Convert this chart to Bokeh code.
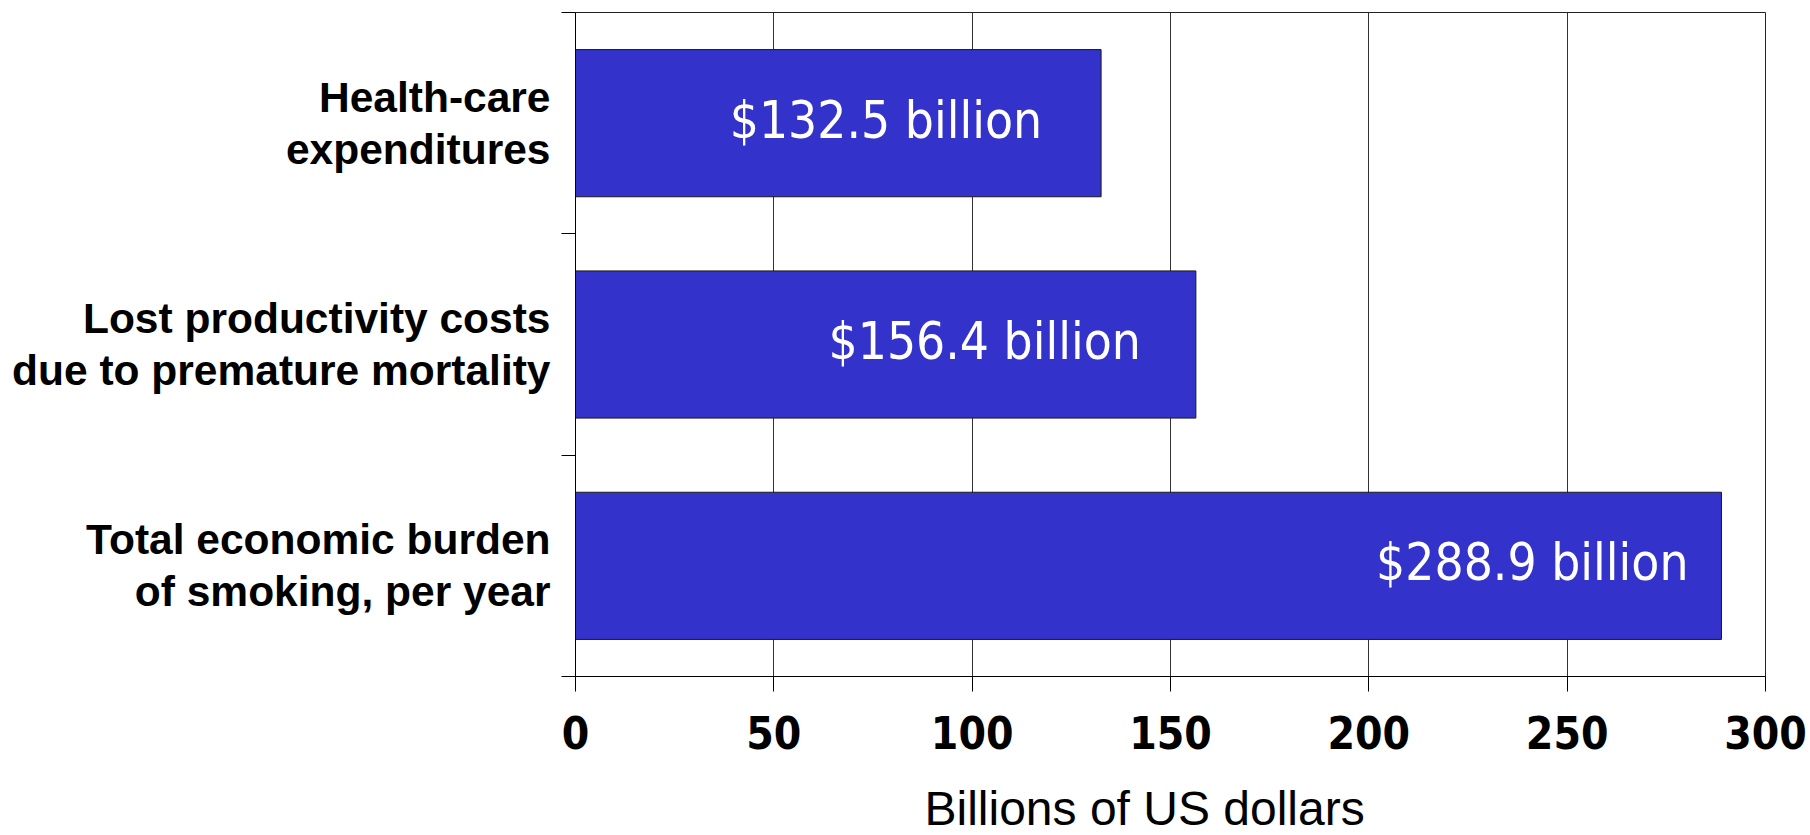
from bokeh.plotting import figure
from bokeh.models import FixedTicker, ColumnDataSource, Range1d, Title
from bokeh.core.properties import value
from bokeh.embed import file_html
from bokeh.resources import INLINE

# ---- data ----
categories = [
    "Health-care\nexpenditures",
    "Lost productivity costs\ndue to premature mortality",
    "Total economic burden\nof smoking, per year",
]
values = [132.5, 156.4, 288.9]
bar_labels = ["$132.5 billion", "$156.4 billion", "$288.9 billion"]
x_ticks = [0, 50, 100, 150, 200, 250, 300]
x_title = "Billions of US dollars"

# ---- styles ----
label_offsets = [-59, -55, -33]
BAR_COLOR = "#3333CC"

n = len(categories)
ypos = [n - i - 0.5 for i in range(n)]
boundaries = list(range(n + 1))

src = ColumnDataSource(dict(y=ypos, value=values, label=bar_labels, xoff=label_offsets))

p = figure(
    width=1810, height=835,
    x_range=Range1d(x_ticks[0], x_ticks[-1]), y_range=Range1d(0, n),
    output_backend="svg", toolbar_location=None,
    min_border_left=575, min_border_right=45, min_border_top=12, min_border_bottom=159,
    background_fill_color="white", border_fill_color="white",
)
p.outline_line_color = "#222222"
p.outline_line_width = 1

p.hbar(y="y", left=0, right="value", height=0.665, source=src,
       fill_color=BAR_COLOR, line_color="#1a1a1a", line_width=1)

p.text(x="value", y="y", text="label", x_offset="xoff", y_offset=-3, source=src,
       text_align="right", text_baseline="middle", text_color="white",
       text_font=value("DejaVu Sans Condensed"), text_font_size="51px")

# grid
p.xgrid.ticker = FixedTicker(ticks=x_ticks)
p.xgrid.grid_line_color = "#333333"
p.xgrid.grid_line_width = 1
p.ygrid.visible = False

# x axis
xa = p.xaxis[0]
xa.ticker = FixedTicker(ticks=x_ticks, minor_ticks=[])
xa.axis_line_color = "black"
xa.major_tick_out = 15
xa.major_tick_in = 0
xa.major_tick_line_color = "black"
xa.minor_tick_out = 0
xa.major_label_standoff = 24
xa.major_label_text_font = "DejaVu Sans Condensed"
xa.major_label_text_font_style = "bold"
xa.major_label_text_font_size = "44px"
xa.major_label_text_color = "black"

# y axis
ya = p.yaxis[0]
ya.ticker = FixedTicker(ticks=ypos, minor_ticks=boundaries)
ya.major_label_overrides = {y: c for y, c in zip(ypos, categories)}
ya.axis_line_color = "black"
ya.major_tick_out = 0
ya.major_tick_in = 0
ya.minor_tick_out = 14
ya.minor_tick_in = 0
ya.minor_tick_line_color = "black"
ya.major_label_standoff = 11
ya.major_label_text_font = "Liberation Sans"
ya.major_label_text_font_style = "bold"
ya.major_label_text_font_size = "42.5px"
ya.major_label_text_line_height = 1.1
ya.major_label_text_color = "black"

# spacer between tick labels and the x-axis title
p.add_layout(Title(text=" ", standoff=0, text_font="Liberation Sans",
                   text_font_size="23px"), "below")
# x axis title (slightly left of centre, as in the original)
p.add_layout(Title(text=x_title, align="left", offset=349, standoff=0,
                   vertical_align="bottom",
                   text_font="Liberation Sans", text_font_style="normal",
                   text_font_size="48px", text_color="black"), "below")

open("out.html", "w").write(file_html(p, INLINE))
